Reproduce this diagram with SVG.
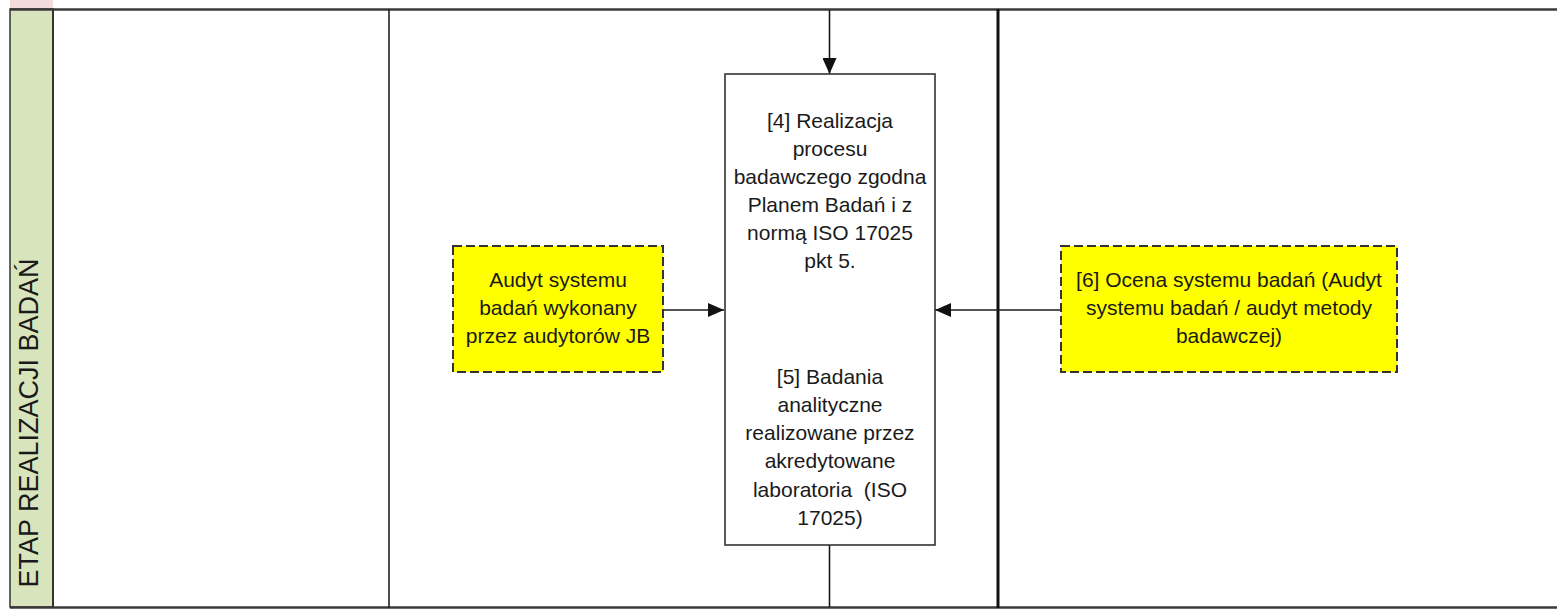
<svg xmlns="http://www.w3.org/2000/svg" width="1557" height="609" viewBox="0 0 1557 609">
<style>
.t{font-family:"Liberation Sans",Arial,sans-serif;font-size:21px;fill:#1a1a1a;text-anchor:middle}
.lane{font-family:"Liberation Sans",Arial,sans-serif;font-size:27px;fill:#1a1a1a;text-anchor:middle}
.box{fill:#ffffff;stroke:#333333;stroke-width:1.6}
.dash{fill:#ffff00;stroke:#333333;stroke-width:2;stroke-dasharray:9 4}
.con{fill:none;stroke:#1a1a1a;stroke-width:1.6}
</style>
<defs>
<marker id="arr" markerWidth="16" markerHeight="14" refX="16" refY="7" orient="auto" markerUnits="userSpaceOnUse">
<path d="M0,0 L16,7 L0,14 Z" fill="#111111"/>
</marker>
</defs>
<rect width="1557" height="609" fill="#ffffff"/>
<g id="lane">
<rect x="10" y="0" width="43" height="9" fill="#f2dcdb"/>
<rect x="10" y="9" width="43" height="598" fill="#d8e4bc" stroke="#333333" stroke-width="1.5"/>
<text class="lane" transform="translate(38,423) rotate(-90)">ETAP REALIZACJI BADAŃ</text>
</g>
<g id="grid">
<line x1="10" y1="9.5" x2="1557" y2="9.5" stroke="#3a3a3a" stroke-width="2.5"/>
<line x1="10" y1="607.5" x2="1557" y2="607.5" stroke="#3a3a3a" stroke-width="2.5"/>
<line x1="53" y1="9" x2="53" y2="608" stroke="#333333" stroke-width="2"/>
<line x1="389" y1="9" x2="389" y2="608" stroke="#222222" stroke-width="1.6"/>
<line x1="998" y1="9" x2="998" y2="608" stroke="#111111" stroke-width="3"/>
</g>
<g id="connectors">
<line class="con" x1="829.5" y1="10" x2="829.5" y2="74" marker-end="url(#arr)"/>
<line class="con" x1="829.5" y1="545" x2="829.5" y2="607"/>
<line class="con" x1="663" y1="310" x2="724" y2="310" marker-end="url(#arr)"/>
<line class="con" x1="1061" y1="310" x2="935" y2="310" marker-end="url(#arr)"/>
</g>
<g id="node-realizacja">
<rect class="box" x="725" y="74" width="210" height="471"/>
<text class="t" x="830" y="128">[4] Realizacja</text>
<text class="t" x="830" y="156">procesu</text>
<text class="t" x="830" y="184">badawczego zgodna</text>
<text class="t" x="830" y="212">Planem Badań i z</text>
<text class="t" x="830" y="240">normą ISO 17025</text>
<text class="t" x="830" y="268">pkt 5.</text>
<text class="t" x="830" y="384">[5] Badania</text>
<text class="t" x="830" y="412">analityczne</text>
<text class="t" x="830" y="440">realizowane przez</text>
<text class="t" x="830" y="468">akredytowane</text>
<text class="t" x="830" y="497" xml:space="preserve">laboratoria  (ISO</text>
<text class="t" x="830" y="525">17025)</text>
</g>
<g id="node-audyt-jb">
<rect class="dash" x="453" y="246" width="210" height="126"/>
<text class="t" x="558" y="287">Audyt systemu</text>
<text class="t" x="558" y="315">badań wykonany</text>
<text class="t" x="558" y="343">przez audytorów JB</text>
</g>
<g id="node-ocena">
<rect class="dash" x="1061" y="246" width="336" height="126"/>
<text class="t" x="1229" y="287">[6] Ocena systemu badań (Audyt</text>
<text class="t" x="1229" y="315">systemu badań / audyt metody</text>
<text class="t" x="1229" y="343">badawczej)</text>
</g>
</svg>
